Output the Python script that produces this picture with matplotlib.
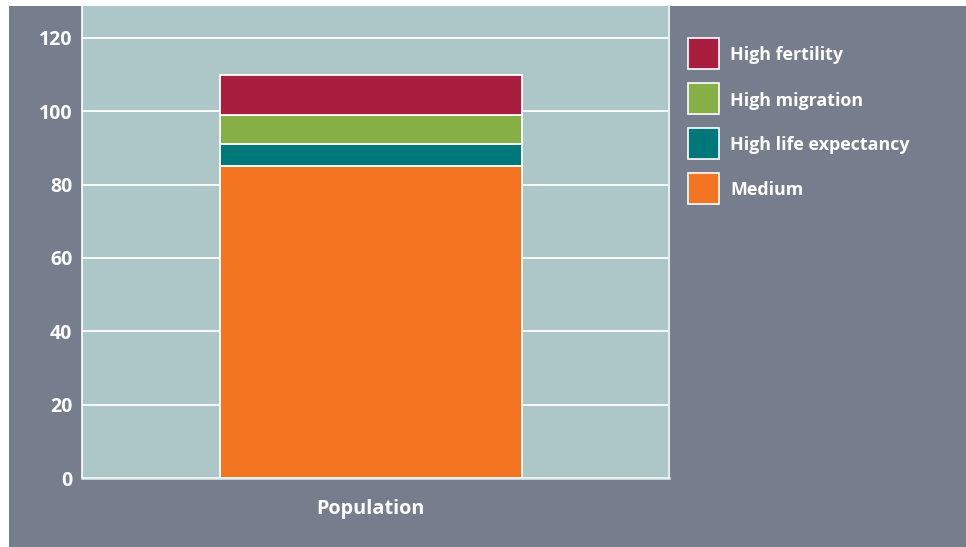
import matplotlib
matplotlib.use("Agg")
import matplotlib.pyplot as plt
from matplotlib.patches import Rectangle

# stacked scenario values for the single population bar (bottom to top)
scenarios = ["Medium", "High life expectancy", "High migration", "High fertility"]
values = [85, 6, 8, 11]
colors = ["#f37421", "#00787a", "#86b045", "#a91d3f"]
category = ["Population"]
yticks = [0, 20, 40, 60, 80, 100, 120]

plt.rcParams["font.family"] = ["Open Sans", "DejaVu Sans"]

W, H = 966, 547
fig = plt.figure(figsize=(W / 100, H / 100), dpi=100)
fig.patch.set_facecolor("white")

# grey panel behind everything
fig.add_artist(Rectangle((9 / W, 0), 1, 1 - 6 / H, transform=fig.transFigure,
                         facecolor="#767d8d", edgecolor="none", zorder=-10))

ax = fig.add_axes([82 / W, 69 / H, 587 / W, 472 / H])
ax.set_facecolor("#adc6c7")

bottom = 0
for name, v, c in zip(scenarios, values, colors):
    ax.bar(0, v, width=0.515, bottom=bottom, color=c, edgecolor="white",
           linewidth=1.3, zorder=3, label=name)
    bottom += v

ax.set_xlim(-0.492, 0.508)
ax.set_ylim(0, 128.7)
ax.set_yticks(yticks)
ax.set_yticklabels([str(t) for t in yticks])
ax.set_xticks([0])
ax.set_xticklabels(category)
ax.yaxis.grid(True, color="white", linewidth=1.3, zorder=1)
ax.set_axisbelow(True)
ax.tick_params(axis="y", length=0, pad=7, labelsize=14, labelcolor="white")
ax.tick_params(axis="x", length=0, pad=15, labelsize=14.3, labelcolor="white")
for lab in ax.get_yticklabels() + ax.get_xticklabels():
    lab.set_fontweight("bold")

ax.spines["top"].set_visible(False)
ax.spines["left"].set_color("white")
ax.spines["left"].set_linewidth(1.2)
ax.spines["right"].set_color("#e4eeee")
ax.spines["right"].set_linewidth(1.5)
ax.spines["bottom"].set_color("#e4eeee")
ax.spines["bottom"].set_linewidth(1.8)

# legend, top entry first
box = 31
for i, (name, c) in enumerate(zip(scenarios[::-1], colors[::-1])):
    y_top = 38 + i * 45
    fig.add_artist(Rectangle((688 / W, 1 - (y_top + box) / H), box / W, box / H,
                             transform=fig.transFigure, facecolor=c,
                             edgecolor="white", linewidth=1.2))
    fig.text(730 / W, 1 - (y_top + box / 2 + 2) / H, name, color="white",
             fontsize=12.9, fontweight="bold", va="center", ha="left")

fig.savefig("out.png", dpi=100)
